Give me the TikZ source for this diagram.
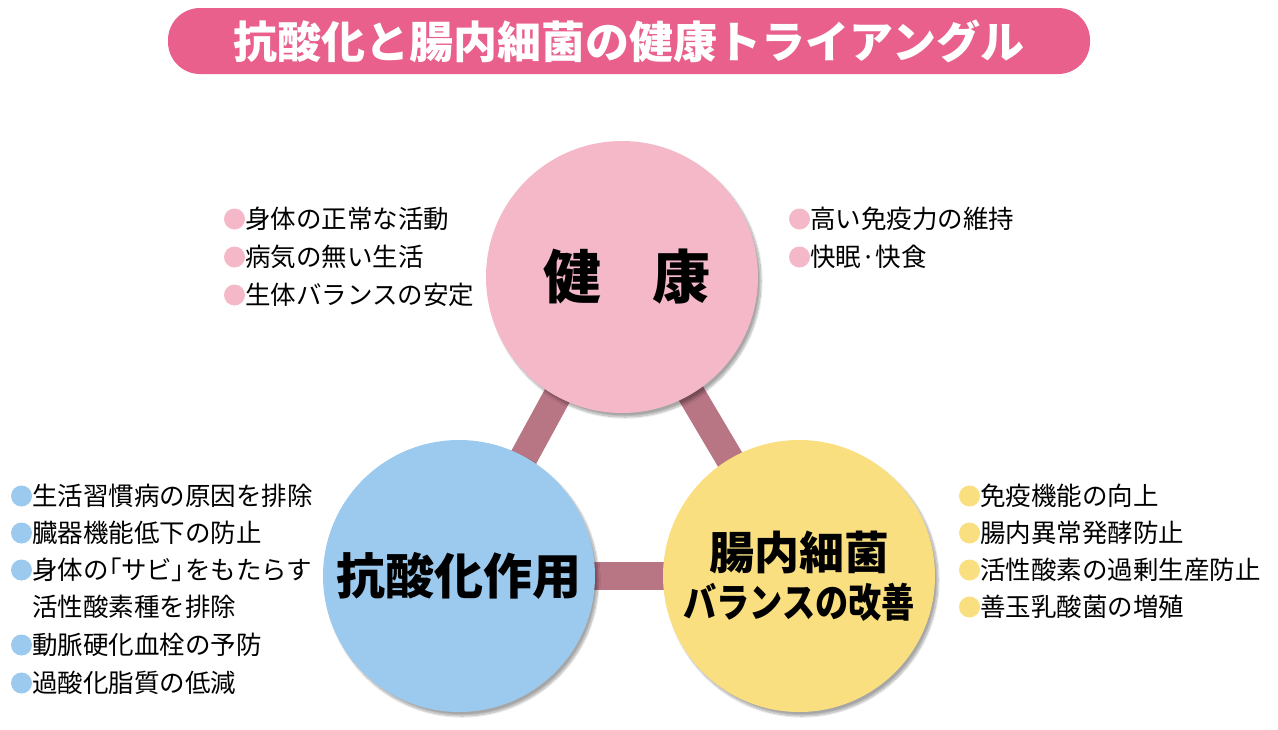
\documentclass[tikz,border=0pt]{standalone}
\usepackage{fontspec}
\setmainfont{Noto Sans CJK JP}
\newfontfamily\heavyjp{Noto Sans CJK JP Black}
\usetikzlibrary{shadows.blur,backgrounds}

\definecolor{kenkopink}{HTML}{F4B8C8}
\definecolor{sanblue}{HTML}{9CCAEE}
\definecolor{kinyellow}{HTML}{F9DF80}
\definecolor{barrose}{HTML}{B87584}
\definecolor{titlepink}{HTML}{E8608B}

\newcommand{\halfbr}[1]{{\addfontfeature{RawFeature=+palt}#1}}

\tikzset{
  big/.style={circle, minimum size=272pt, inner sep=0pt, fill=#1, align=center,
    blur shadow={shadow xshift=3pt, shadow yshift=-4pt, shadow blur steps=12, shadow opacity=35}},
  bar/.style={line width=28pt, barrose},
  bullet/.style={circle, inner sep=0pt, outer sep=0pt, minimum size=21pt, fill=#1},
  item/.style={anchor=west, inner sep=0pt, font=\fontsize{25.5}{25.5}\selectfont,
    label distance=2pt, label={[bullet=#1]left:}},
}

\begin{document}
\begin{tikzpicture}[x=1pt, y=-1pt]
  \useasboundingbox (0,0) rectangle (1278,729);
  \node[fill=titlepink, rounded corners=32pt, minimum width=922pt, minimum height=66pt,
    text=white, font=\fontsize{44}{44}\selectfont\bfseries] (title) at (629,41)
    {抗酸化と腸内細菌の健康トライアングル};

  \node[big=kenkopink, font=\fontsize{58}{58}\selectfont\heavyjp] (kenko) at (622,277) {\hspace{10pt}健\hspace{52pt}康};
  \node[big=sanblue, font=\fontsize{49}{49}\selectfont\heavyjp] (kousanka) at (459,576) {抗酸化作用};
  \node[big=kinyellow, font=\fontsize{45}{50}\selectfont\heavyjp] (chounai) at (799,576)
    {腸内細菌\\[-2pt]\scalebox{0.83}[1]{\fontsize{40}{40}\selectfont バランスの改善}};

  \begin{scope}[on background layer]
    \draw[bar] (kenko.center) -- (kousanka.center);
    \draw[bar] (kenko.center) -- (chounai.center);
    \draw[bar] (kousanka.center) -- (chounai.center);
  \end{scope}

  \node[item=kenkopink] (k1) at (245,219) {身体の正常な活動};
  \node[item=kenkopink] (k2) at (245,257) {病気の無い生活};
  \node[item=kenkopink] (k3) at (245,295) {生体バランスの安定};
  \node[item=kenkopink] (k4) at (810,219) {高い免疫力の維持};
  \node[item=kenkopink] (k5) at (810,257) {快眠·快食};

  \node[item=sanblue] (s1) at (32,496) {生活習慣病の原因を排除};
  \node[item=sanblue] (s2) at (32,533) {臓器機能低下の防止};
  \node[item=sanblue] (s3) at (32,570) {身体の\halfbr{「}サビ\halfbr{」}をもたらす};
  \node[anchor=west, inner sep=0pt, font=\fontsize{25.5}{25.5}\selectfont] (s4) at (32,607) {活性酸素種を排除};
  \node[item=sanblue] (s5) at (32,645) {動脈硬化血栓の予防};
  \node[item=sanblue] (s6) at (32,683) {過酸化脂質の低減};

  \node[item=kinyellow] (c1) at (980,496) {免疫機能の向上};
  \node[item=kinyellow] (c2) at (980,533) {腸内異常発酵防止};
  \node[item=kinyellow] (c3) at (980,570) {活性酸素の過剰生産防止};
  \node[item=kinyellow] (c4) at (980,607) {善玉乳酸菌の増殖};
\end{tikzpicture}
\end{document}
